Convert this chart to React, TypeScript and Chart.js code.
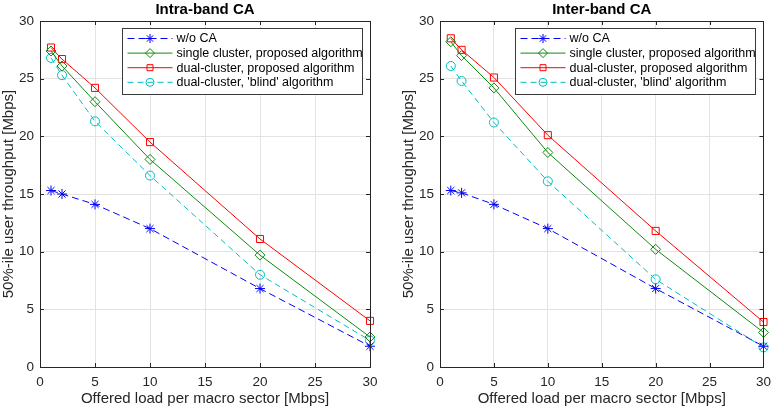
import React, { useEffect, useRef } from "react";
import { Chart, registerables } from "chart.js";

Chart.register(...registerables);

const loads = [1, 2, 5, 10, 20, 30];
const seriesNames = [
  "w/o CA",
  "single cluster, proposed algorithm",
  "dual-cluster, proposed algorithm",
  "dual-cluster, 'blind' algorithm",
];
const intraWoCA = [15.3, 15.0, 14.1, 12.0, 6.8, 1.8];
const intraSingle = [27.4, 26.1, 23.0, 18.0, 9.7, 2.6];
const intraDual = [27.7, 26.7, 24.2, 19.5, 11.1, 4.0];
const intraBlind = [26.8, 25.3, 21.3, 16.6, 8.0, 2.3];
const interWoCA = [15.3, 15.1, 14.1, 12.0, 6.8, 1.8];
const interSingle = [28.2, 27.0, 24.2, 18.6, 10.2, 3.0];
const interDual = [28.5, 27.5, 25.1, 20.1, 11.8, 3.9];
const interBlind = [26.1, 24.8, 21.2, 16.1, 7.6, 1.7];
const xTitle = "Offered load per macro sector [Mbps]";
const yTitle = "50%-ile user throughput [Mbps]";

const FONT = "'Liberation Sans', Arial, Helvetica, sans-serif";
const AXC = "#262626";

const styles = [
  { color: "#0000ff", dash: [7, 4], point: "star", r: 5 },
  { color: "#108a10", dash: [], point: "rectRot", r: 5 },
  { color: "#ff0000", dash: [], point: "rect", r: 5 },
  { color: "#00bfbf", dash: [6, 4], point: "circle", r: 4.5 },
];

function drawMarker(ctx: CanvasRenderingContext2D, kind: string, x: number, y: number) {
  ctx.beginPath();
  if (kind === "star") {
    const r = 4.5;
    for (let i = 0; i < 4; i++) {
      const a = (i * Math.PI) / 4;
      ctx.moveTo(x - r * Math.cos(a), y - r * Math.sin(a));
      ctx.lineTo(x + r * Math.cos(a), y + r * Math.sin(a));
    }
  } else if (kind === "rectRot") {
    const r = 4.5;
    ctx.moveTo(x, y - r);
    ctx.lineTo(x + r, y);
    ctx.lineTo(x, y + r);
    ctx.lineTo(x - r, y);
    ctx.closePath();
  } else if (kind === "rect") {
    ctx.rect(x - 3, y - 3, 6, 6);
  } else {
    ctx.arc(x, y, 4, 0, Math.PI * 2);
  }
  ctx.stroke();
}

const framePlugin = {
  id: "matlabFrame",
  afterDraw(chart: any) {
    const { ctx, chartArea } = chart;
    const { left, right, top, bottom } = chartArea;
    const title = chart.options.plugins.matlabFrame.title;
    ctx.save();
    ctx.strokeStyle = AXC;
    ctx.lineWidth = 1;
    ctx.setLineDash([]);
    ctx.strokeRect(Math.round(left) + 0.5, Math.round(top) + 0.5, Math.round(right - left), Math.round(bottom - top));
    const xs = chart.scales.x;
    const ys = chart.scales.y;
    ctx.beginPath();
    xs.ticks.forEach((t: any) => {
      const px = Math.round(xs.getPixelForValue(t.value)) + 0.5;
      ctx.moveTo(px, bottom);
      ctx.lineTo(px, bottom - 4);
      ctx.moveTo(px, top);
      ctx.lineTo(px, top + 4);
    });
    ys.ticks.forEach((t: any) => {
      const py = Math.round(ys.getPixelForValue(t.value)) + 0.5;
      ctx.moveTo(left, py);
      ctx.lineTo(left + 4, py);
      ctx.moveTo(right, py);
      ctx.lineTo(right - 4, py);
    });
    ctx.stroke();
    ctx.fillStyle = "#000";
    ctx.font = `bold 15px ${FONT}`;
    ctx.textAlign = "center";
    ctx.textBaseline = "alphabetic";
    ctx.fillText(title, (left + right) / 2, 14);
    const bw = 240;
    const bh = 66;
    const bx = Math.round(right - 8 - bw) + 0.5;
    const by = Math.round(top + 7) + 0.5;
    ctx.fillStyle = "#fff";
    ctx.fillRect(bx, by, bw, bh);
    ctx.strokeStyle = "#3a3a3a";
    ctx.strokeRect(bx, by, bw, bh);
    ctx.font = `12.5px ${FONT}`;
    ctx.textAlign = "left";
    ctx.textBaseline = "middle";
    seriesNames.forEach((name, i) => {
      const s = styles[i];
      const ry = by + 10 + i * 14.6;
      ctx.strokeStyle = s.color;
      ctx.lineWidth = 1;
      ctx.setLineDash(s.dash);
      ctx.beginPath();
      ctx.moveTo(bx + 5, ry);
      ctx.lineTo(bx + 50, ry);
      ctx.stroke();
      ctx.setLineDash([]);
      drawMarker(ctx, s.point, bx + 27.5, ry);
      ctx.fillStyle = "#000";
      ctx.fillText(name, bx + 54, ry + 0.5);
    });
    ctx.restore();
  },
};

function Panel({ title, series, left, width, plotRight }: { title: string; series: number[][]; left: number; width: number; plotRight: number }) {
  const ref = useRef<HTMLCanvasElement>(null);
  useEffect(() => {
    const datasets = series.map((vals, i) => {
      const s = styles[i];
      return {
        label: seriesNames[i],
        data: loads.map((x, j) => ({ x, y: vals[j] })),
        borderColor: s.color,
        backgroundColor: "rgba(0,0,0,0)",
        borderWidth: 1,
        borderDash: s.dash,
        pointStyle: s.point,
        pointRadius: s.r,
        pointBorderColor: s.color,
        pointBorderWidth: 1,
        pointBackgroundColor: "rgba(0,0,0,0)",
        tension: 0,
        clip: false as any,
      };
    });
    const chart = new Chart(ref.current!, {
      type: "line",
      data: { datasets: datasets as any },
      plugins: [framePlugin],
      options: {
        responsive: false,
        animation: false,
        devicePixelRatio: 1,
        layout: { padding: { top: 21, right: width - plotRight, left: 0, bottom: 0 } },
        plugins: {
          legend: { display: false },
          tooltip: { enabled: false },
          title: { display: false },
          matlabFrame: { title },
        } as any,
        scales: {
          x: {
            type: "linear",
            min: 0,
            max: 30,
            afterFit: (s: any) => {
              s.height = 41;
            },
            ticks: { stepSize: 5, padding: 7, color: AXC, font: { family: FONT, size: 13.5 }, maxRotation: 0 },
            grid: { color: "#e3e3e3", drawTicks: false, lineWidth: 1 },
            border: { display: false },
            title: {
              display: true,
              text: xTitle,
              color: AXC,
              font: { family: FONT, size: 15 },
              padding: { top: 0, bottom: 0 },
            },
          },
          y: {
            type: "linear",
            min: 0,
            max: 30,
            afterFit: (s: any) => {
              s.width = 40;
            },
            ticks: { stepSize: 5, padding: 6, color: AXC, font: { family: FONT, size: 13.5 } },
            grid: { color: "#e3e3e3", drawTicks: false, lineWidth: 1 },
            border: { display: false },
            title: {
              display: true,
              text: yTitle,
              color: AXC,
              font: { family: FONT, size: 15 },
              padding: { top: 0, bottom: 0 },
            },
          },
        },
      },
    } as any);
    return () => chart.destroy();
  }, []);
  return (
    <canvas
      ref={ref}
      width={width}
      height={408}
      style={{ position: "absolute", left, top: 0, width, height: 408, display: "block" }}
    />
  );
}

export default function App() {
  return (
    <div style={{ position: "absolute", left: 0, top: 0, width: 778, height: 408, background: "#fff" }}>
      <Panel title="Intra-band CA" series={[intraWoCA, intraSingle, intraDual, intraBlind]} left={0} width={389} plotRight={370} />
      <Panel title="Inter-band CA" series={[interWoCA, interSingle, interDual, interBlind]} left={400} width={378} plotRight={370} />
    </div>
  );
}
